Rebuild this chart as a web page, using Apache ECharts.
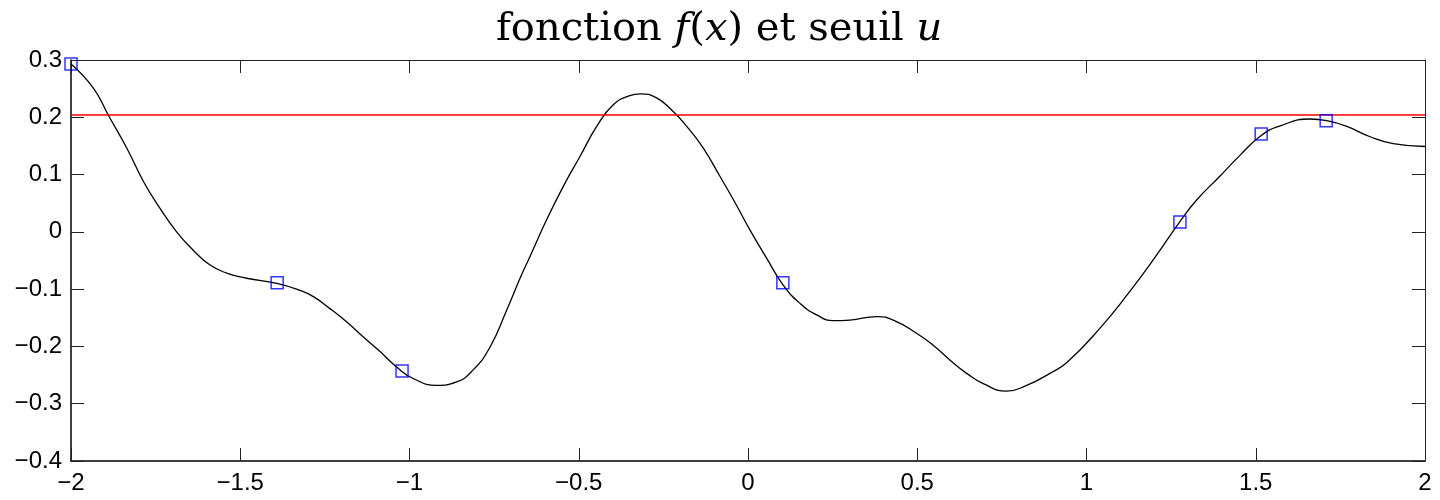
<!DOCTYPE html>
<html>
<head>
<meta charset="utf-8">
<script src="https://cdn.jsdelivr.net/npm/echarts@6/dist/echarts.min.js"></script>
<style>
  html, body { margin: 0; padding: 0; background: #fff; }
  #chart { width: 1440px; height: 500px; }
</style>
</head>
<body>
<div id="chart"></div>
<script>
// Function f(x) sampled along [-2, 2]
const curveX = [-2.000, -1.934, -1.890, -1.835, -1.786, -1.737, -1.688, -1.639, -1.589, -1.540,
  -1.481, -1.392, -1.324, -1.284, -1.235, -1.186, -1.137, -1.087, -1.038, -0.989,
  -0.920, -0.861, -0.812, -0.762, -0.713, -0.674, -0.644, -0.595, -0.546, -0.496,
  -0.447, -0.398, -0.349, -0.319, -0.270, -0.221, -0.181, -0.132, -0.083, -0.043,
  0.006, 0.055, 0.104, 0.154, 0.203, 0.252, 0.301, 0.380, 0.429, 0.498,
  0.547, 0.597, 0.646, 0.695, 0.764, 0.823, 0.892, 0.942, 1.040, 1.128,
  1.197, 1.276, 1.326, 1.394, 1.454, 1.518, 1.572, 1.660, 1.710, 1.769,
  1.838, 1.906, 2.000];
const curveY = [0.293, 0.251, 0.204, 0.146, 0.088, 0.041, 0.000, -0.032, -0.058, -0.072,
  -0.081, -0.090, -0.102, -0.113, -0.134, -0.157, -0.183, -0.209, -0.236, -0.256,
  -0.268, -0.262, -0.241, -0.201, -0.137, -0.082, -0.043, 0.021, 0.079, 0.132,
  0.184, 0.222, 0.238, 0.241, 0.234, 0.210, 0.184, 0.146, 0.097, 0.056,
  0.003, -0.046, -0.093, -0.125, -0.145, -0.155, -0.154, -0.148, -0.154, -0.177,
  -0.198, -0.224, -0.247, -0.265, -0.278, -0.268, -0.247, -0.228, -0.168, -0.104,
  -0.049, 0.018, 0.056, 0.097, 0.134, 0.169, 0.185, 0.197, 0.194, 0.184,
  0.166, 0.154, 0.149];

// Sample points (blue squares)
const sampleX = [-2.000, -1.391, -1.022, 0.103, 1.276, 1.516, 1.708];
const sampleY = [0.293, -0.089, -0.243, -0.089, 0.017, 0.171, 0.194];

// Threshold u
const seuil = 0.204;

// Axis ranges and ticks
const xMin = -2, xMax = 2, xStep = 0.5;
const yMin = -0.4, yMax = 0.3, yStep = 0.1;

const pair = (xs, ys) => xs.map((x, i) => [x, ys[i]]);
const fmt = v => {
  const r = Math.round(v * 1000) / 1000;
  if (Math.abs(r) < 1e-9) return '0';
  return (r < 0 ? '\u2212' : '') + String(Math.abs(r));
};

const tickFont = { fontFamily: 'Liberation Sans, Arial, sans-serif', fontSize: 24, color: '#000' };
const tickStyle = { show: true, inside: true, length: 13, lineStyle: { color: '#222', width: 1 } };
const serif = 'DejaVu Serif, serif';

const chart = echarts.init(document.getElementById('chart'), null, { renderer: 'canvas' });
chart.setOption({
  animation: false,
  backgroundColor: '#fff',
  title: {
    text: '{r|fonction }{i|f}{r|(}{i|x}{r|) et seuil }{i|u}',
    left: 491,
    top: 5,
    textStyle: {
      fontWeight: 'normal',
      rich: {
        r: { fontFamily: serif, fontSize: 40, fontWeight: 'normal', color: '#000' },
        i: { fontFamily: serif, fontSize: 40, fontWeight: 'normal', fontStyle: 'italic', color: '#000' }
      }
    }
  },
  grid: { left: 71, right: 15, top: 60, bottom: 39, containLabel: false },
  xAxis: [
    {
      type: 'value', position: 'bottom', min: xMin, max: xMax, interval: xStep,
      axisLine: { show: true, onZero: false, lineStyle: { color: '#000', width: 1.5 } },
      axisTick: tickStyle,
      axisLabel: Object.assign({ margin: 10, formatter: fmt }, tickFont),
      splitLine: { show: false }
    },
    {
      type: 'value', position: 'top', min: xMin, max: xMax, interval: xStep,
      axisLine: { show: true, onZero: false, lineStyle: { color: '#222', width: 1 } },
      axisTick: tickStyle,
      axisLabel: { show: false },
      splitLine: { show: false }
    }
  ],
  yAxis: [
    {
      type: 'value', position: 'left', min: yMin, max: yMax, interval: yStep,
      axisLine: { show: true, onZero: false, lineStyle: { color: '#000', width: 1.5 } },
      axisTick: tickStyle,
      axisLabel: Object.assign({ margin: 9, formatter: fmt }, tickFont),
      splitLine: { show: false }
    },
    {
      type: 'value', position: 'right', min: yMin, max: yMax, interval: yStep,
      axisLine: { show: true, onZero: false, lineStyle: { color: '#222', width: 1 } },
      axisTick: tickStyle,
      axisLabel: { show: false },
      splitLine: { show: false }
    }
  ],
  series: [
    {
      name: 'f(x)', type: 'line', xAxisIndex: 0, yAxisIndex: 0,
      data: pair(curveX, curveY),
      smooth: 0.5, showSymbol: false, symbol: 'none',
      lineStyle: { color: '#000', width: 1.3 },
      z: 2
    },
    {
      name: 'u', type: 'line', xAxisIndex: 0, yAxisIndex: 0,
      data: [[xMin, seuil], [xMax, seuil]],
      showSymbol: false, symbol: 'none',
      lineStyle: { color: '#ff0000', width: 1.3 },
      z: 3
    },
    {
      name: 'points', type: 'scatter', xAxisIndex: 0, yAxisIndex: 0,
      data: pair(sampleX, sampleY),
      symbol: 'rect', symbolSize: 12, clip: false,
      itemStyle: { color: 'rgba(0,0,0,0)', borderColor: '#0000ff', borderWidth: 1.5 },
      z: 4
    }
  ]
});
</script>
</body>
</html>
